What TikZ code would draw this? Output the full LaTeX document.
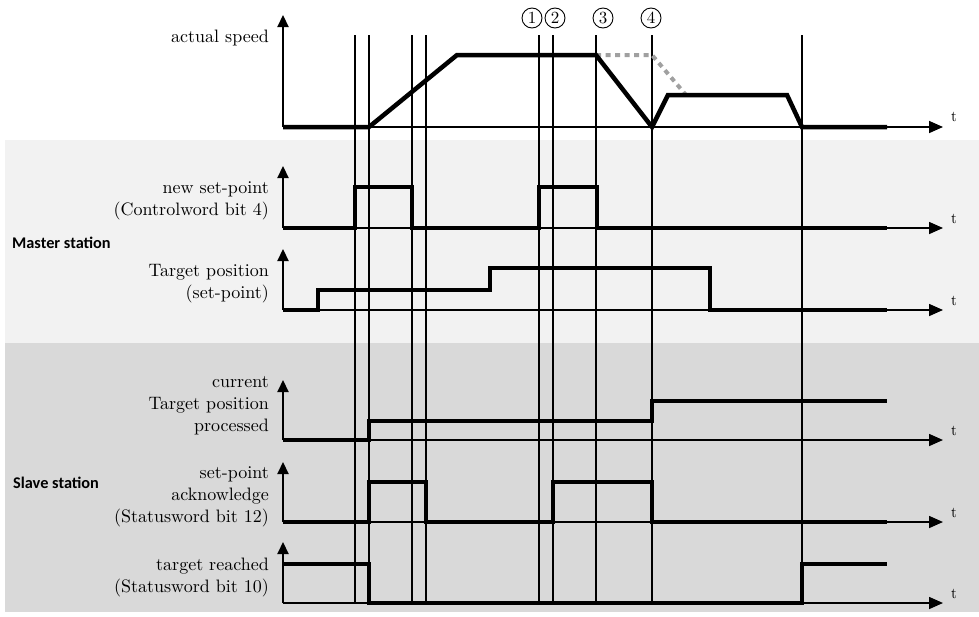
\documentclass[tikz,border=0pt]{standalone}
\usepackage{fontspec}
\setmainfont{lmroman10-regular.otf}[BoldFont=lmroman10-bold.otf]
\newfontfamily\boldsans{Carlito}
\usetikzlibrary{arrows.meta}
\definecolor{lightbg}{HTML}{F2F2F2}
\definecolor{darkbg}{HTML}{D9D9D9}
\definecolor{dotgray}{HTML}{A0A0A0}
\tikzset{
  sig/.style={line width=4.5pt, line join=miter, black},
  ghost/.style={line width=4pt, dotgray, dash pattern=on 5pt off 4.5pt},
  yaxis/.style={line width=2.2pt, -{Triangle[length=12pt,width=11pt]}},
  xaxis/.style={line width=1.6pt, -{Triangle[length=14pt,width=12pt]}},
  guide/.style={line width=1.1pt},
  lbl/.style={anchor=east, align=right, inner sep=0pt, font=\fontsize{18}{22}\selectfont},
  tlbl/.style={inner sep=0pt, font=\fontsize{15}{15}\selectfont},
  station/.style={anchor=west, inner sep=0pt, font=\boldsans\bfseries\fontsize{16.3}{18}\selectfont},
  circ/.style={circle, draw, line width=0.9pt, minimum size=20pt, inner sep=0pt, font=\fontsize{17}{17}\selectfont},
}
\begin{document}
\begin{tikzpicture}[x=1pt, y=-1pt]
\useasboundingbox (0,0) rectangle (979,616);
% backgrounds
\fill[lightbg] (5,140) rectangle (979,343);
\fill[darkbg] (5,343) rectangle (979,612);

% axis origins
\coordinate (o1) at (283,127);
\coordinate (o2) at (283,228);
\coordinate (o3) at (283,310);
\coordinate (o4) at (283,440);
\coordinate (o5) at (283,522);
\coordinate (o6) at (283,603);
\coordinate (y1) at (283,15);
\coordinate (y2) at (283,166);
\coordinate (y3) at (283,249);
\coordinate (y4) at (283,380);
\coordinate (y5) at (283,462);
\coordinate (y6) at (283,542);
\coordinate (x1) at (943,127);
\coordinate (x2) at (943,228);
\coordinate (x3) at (943,310);
\coordinate (x4) at (943,440);
\coordinate (x5) at (943,522);
\coordinate (x6) at (943,603);

% guide lines
\foreach \gx in {355,369,412,426,539,553,596,652,802}
  \draw[guide] (\gx,35) -- (\gx,603);

% axes
\foreach \i in {1,...,6} {
  \draw[yaxis] (o\i) -- (y\i);
  \draw[xaxis] (o\i) -- (x\i);
}

% t labels
\node[tlbl] (t1) at (954,117) {t};
\node[tlbl] (t2) at (954,219) {t};
\node[tlbl] (t3) at (954,301) {t};
\node[tlbl] (t4) at (954,431) {t};
\node[tlbl] (t5) at (954,513) {t};
\node[tlbl] (t6) at (954,594) {t};

% signals
\draw[ghost] (596,55) -- (652,55) -- (686,95);
\draw[sig] (283,127) -- (369,127) -- (457,55) -- (596,55) -- (652,127) -- (668,95) -- (787,95) -- (802,127) -- (887,127);
\draw[sig] (283,228) -- (355,228) -- (355,187) -- (412,187) -- (412,228) -- (539,228) -- (539,187) -- (597,187) -- (597,228) -- (887,228);
\draw[sig] (283,310) -- (318,310) -- (318,290) -- (490,290) -- (490,268) -- (710,268) -- (710,310) -- (887,310);
\draw[sig] (283,440) -- (369,440) -- (369,421) -- (652,421) -- (652,401) -- (887,401);
\draw[sig] (283,522) -- (369,522) -- (369,482) -- (426,482) -- (426,522) -- (553,522) -- (553,482) -- (652,482) -- (652,522) -- (887,522);
\draw[sig] (283,564) -- (369,564) -- (369,603) -- (802,603) -- (802,564) -- (887,564);

% circled numbers
\node[circ] (c1) at (532,18) {1};
\node[circ] (c2) at (555,18) {2};
\node[circ] (c3) at (603,18) {3};
\node[circ] (c4) at (651,18) {4};

% labels
\node[lbl] (l1) at (269,38) {actual speed};
\node[lbl] (l2) at (269,201) {new set-point\\(Controlword bit 4)};
\node[lbl] (l3) at (269,284) {Target position\\(set-point)};
\node[lbl] (l4) at (269,406) {current\\Target position\\processed};
\node[lbl] (l5) at (269,497) {set-point\\acknowledge\\(Statusword bit 12)};
\node[lbl] (l6) at (269,577) {target reached\\(Statusword bit 10)};

\node[station] (ms) at (12,243) {Master station};
\node[station] (ss) at (13,483) {Slave station};
\end{tikzpicture}
\end{document}
